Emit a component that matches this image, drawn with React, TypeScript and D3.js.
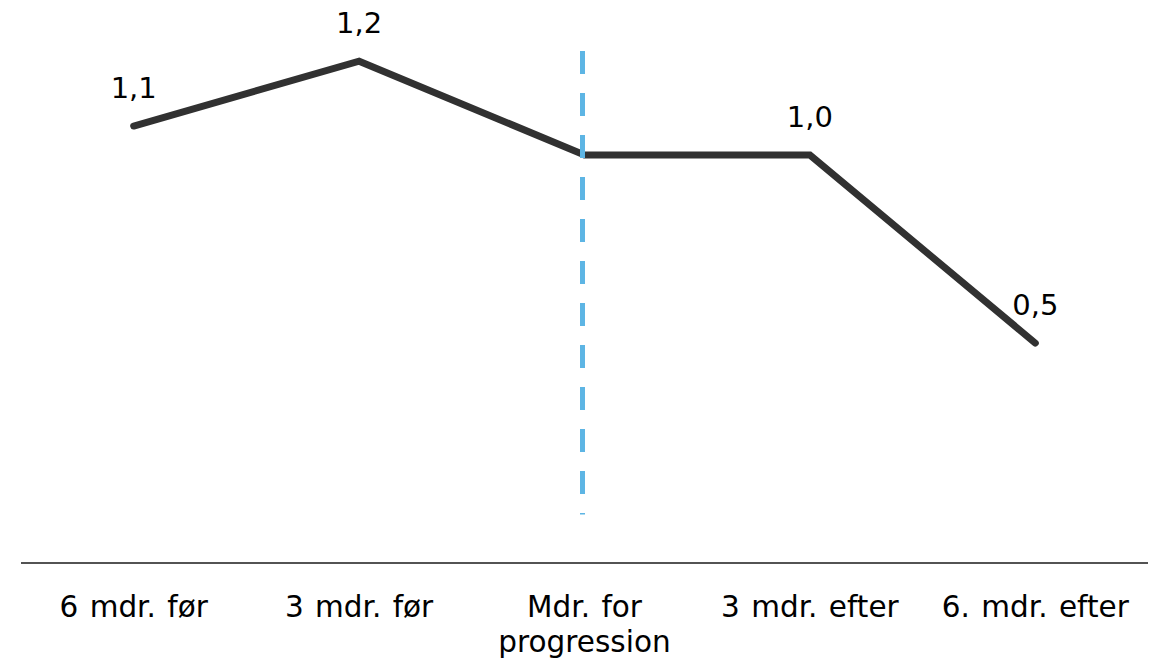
import React, { useEffect, useRef } from "react";
import * as d3 from "d3";

const categories = ["6 mdr. før", "3 mdr. før", "Mdr. for progression", "3 mdr. efter", "6. mdr. efter"];
const values = [1.071, 1.23, 1.0, 1.0, 0.539];
const showLabel = [true, true, false, true, true];
const markerCategory = "Mdr. for progression";
const markerRange = [1.255, 0.119];

const W = 1159;
const H = 658;
const FONT = "'DejaVu Sans', Verdana, sans-serif";

export default function App() {
  const ref = useRef<SVGSVGElement | null>(null);

  useEffect(() => {
    const svg = d3.select(ref.current);
    svg.selectAll("*").remove();

    const x = d3.scaleBand<string>().domain(categories).range([21, 1148]).padding(0);
    const y = d3.scaleLinear().domain([0, 1]).range([563, 155]);
    const cx = (c: string) => (x(c) as number) + x.bandwidth() / 2;

    // axis line
    svg.append("line")
      .attr("x1", x.range()[0]).attr("x2", x.range()[1])
      .attr("y1", y(0)).attr("y2", y(0))
      .attr("stroke", "#1a1a1a").attr("stroke-width", 1.5);

    // line series
    const line = d3.line<number>()
      .x((_, i) => cx(categories[i]))
      .y((d) => y(d));
    svg.append("path")
      .attr("d", line(values) as string)
      .attr("fill", "none")
      .attr("stroke", "#313131")
      .attr("stroke-width", 7)
      .attr("stroke-linejoin", "miter")
      .attr("stroke-linecap", "round");

    // dashed marker
    svg.append("line")
      .attr("x1", cx(markerCategory) - 2).attr("x2", cx(markerCategory) - 2)
      .attr("y1", y(markerRange[0])).attr("y2", y(markerRange[1]))
      .attr("stroke", "#5db5e4")
      .attr("stroke-width", 5)
      .attr("stroke-dasharray", "23 19");

    // data labels
    const fmt = (v: number) => d3.format(".1f")(v).replace(".", ",");
    values.forEach((v, i) => {
      if (!showLabel[i]) return;
      svg.append("text")
        .attr("x", cx(categories[i]))
        .attr("y", y(v) - 28)
        .attr("text-anchor", "middle")
        .attr("font-family", FONT)
        .attr("font-size", 29)
        .attr("fill", "#000")
        .text(fmt(v));
    });

    // category labels with wrapping
    const maxW = x.bandwidth() - 6;
    categories.forEach((c) => {
      const t = svg.append("text")
        .attr("x", cx(c))
        .attr("y", 617)
        .attr("text-anchor", "middle")
        .attr("font-family", FONT)
        .attr("font-size", 29.5)
        .attr("word-spacing", 2)
        .attr("fill", "#000");
      const words = c.split(" ");
      let lineWords: string[] = [];
      let tspan = t.append("tspan").attr("x", cx(c)).attr("dy", 0);
      words.forEach((w) => {
        lineWords.push(w);
        tspan.text(lineWords.join(" "));
        const node = tspan.node() as SVGTSpanElement;
        if (node.getComputedTextLength() > maxW && lineWords.length > 1) {
          lineWords.pop();
          tspan.text(lineWords.join(" "));
          lineWords = [w];
          tspan = t.append("tspan").attr("x", cx(c)).attr("dy", 35).text(w);
        }
      });
    });
  }, []);

  return (
    <div style={{ position: "absolute", left: 0, top: 0 }}>
      <svg ref={ref} width={W} height={H} style={{ display: "block", background: "#fff" }} />
    </div>
  );
}
